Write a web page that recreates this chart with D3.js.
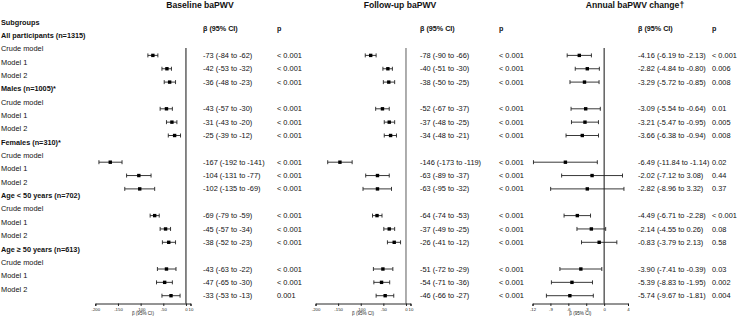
<!DOCTYPE html>
<html><head><meta charset="utf-8">
<script src="https://cdn.jsdelivr.net/npm/d3@7/dist/d3.min.js"></script>
<style>body{margin:0;background:#fff}svg{display:block;font-family:"Liberation Sans",Arial,sans-serif}</style>
</head><body>
<script>
const groups = ["All participants (n=1315)", "Males (n=1005)*", "Females (n=310)*", "Age < 50 years (n=702)", "Age \u2265 50 years (n=613)"];
const models = ["Crude model", "Model 1", "Model 2"];
const panelTitles = ["Baseline baPWV", "Follow-up baPWV", "Annual baPWV change\u2020"];

const baseBeta = [-73,-42,-36, -43,-31,-25, -167,-104,-102, -69,-45,-38, -43,-47,-33];
const baseLo   = [-84,-53,-48, -57,-43,-39, -192,-131,-135, -79,-57,-52, -63,-65,-53];
const baseHi   = [-62,-32,-23, -30,-20,-12, -141,-77,-69, -59,-34,-23, -22,-30,-13];
const baseP    = ["< 0.001","< 0.001","< 0.001","< 0.001","< 0.001","< 0.001","< 0.001","< 0.001","< 0.001","< 0.001","< 0.001","< 0.001","< 0.001","< 0.001","0.001"];

const follBeta = [-78,-40,-38, -52,-37,-34, -146,-63,-63, -64,-37,-26, -51,-54,-46];
const follLo   = [-90,-51,-50, -67,-48,-48, -173,-89,-95, -74,-49,-41, -72,-71,-66];
const follHi   = [-66,-30,-25, -37,-25,-21, -119,-37,-32, -53,-25,-12, -29,-36,-27];
const follP    = ["< 0.001","< 0.001","< 0.001","< 0.001","< 0.001","< 0.001","< 0.001","< 0.001","< 0.001","< 0.001","< 0.001","< 0.001","< 0.001","< 0.001","< 0.001"];

const chgBeta = [-4.16,-2.82,-3.29, -3.09,-3.21,-3.66, -6.49,-2.02,-2.82, -4.49,-2.14,-0.83, -3.90,-5.39,-5.74];
const chgLo   = [-6.19,-4.84,-5.72, -5.54,-5.47,-6.38, -11.84,-7.12,-8.96, -6.71,-4.55,-3.79, -7.41,-8.83,-9.67];
const chgHi   = [-2.13,-0.80,-0.85, -0.64,-0.95,-0.94, -1.14,3.08,3.32, -2.28,0.26,2.13, -0.39,-1.95,-1.81];
const chgP    = ["< 0.001","0.006","0.008","0.01","0.005","0.008","0.02","0.44","0.37","< 0.001","0.08","0.58","0.03","0.002","0.004"];

const ticksPWV = [-200,-150,-100,-50,0,10];
const ticksChg = [-12,-9,-6,-3,0,4];

const W = 750, H = 320;
const svg = d3.select("body").append("svg").attr("width", W).attr("height", H);

const rowY = d3.scaleLinear().domain([0, 20]).range([22, 289]);
const dataOff = 6.7;
const axisY = 303.5;
const topLine = 48;

// left labels
const labelRows = [{t:"Subgroups", b:true, i:0}];
groups.forEach((g, gi) => {
  labelRows.push({t:g, b:true, i:1 + gi*4});
  models.forEach((m, mi) => labelRows.push({t:m, b:false, i:2 + gi*4 + mi}));
});
svg.append("g").selectAll("text").data(labelRows).join("text")
  .attr("x", 1).attr("y", d => rowY(d.i)).attr("dy", "0.35em")
  .attr("font-size", d => d.b ? 7.3 : 7.4)
  .attr("font-weight", d => d.b ? "bold" : "normal")
  .attr("fill", "#111")
  .text(d => d.t);

function fmt(v, k) { return (v < 0 ? "-" : "") + Math.abs(v).toFixed(k); }

const panels = [
  {title: panelTitles[0], tx: 200, beta: baseBeta, lo: baseLo, hi: baseHi, p: baseP, dom: [-200,10], rng: [95.3,190.5], ticks: ticksPWV, dec: 0, bx: 203, px: 277, zc: "#111", zw: 1},
  {title: panelTitles[1], tx: 400, beta: follBeta, lo: follLo, hi: follHi, p: follP, dom: [-200,10], rng: [315.5,410.5], ticks: ticksPWV, dec: 0, bx: 420, px: 499, zc: "#999", zw: 1.6},
  {title: panelTitles[2], tx: 635, beta: chgBeta, lo: chgLo, hi: chgHi, p: chgP, dom: [-12,4], rng: [532.5,628], ticks: ticksChg, dec: 2, bx: 638, px: 712, zc: "#111", zw: 1}
];

panels.forEach(P => {
  const g = svg.append("g");
  const x = d3.scaleLinear().domain(P.dom).range(P.rng);
  g.append("text").attr("x", P.tx).attr("y", 5).attr("dy", "0.35em")
    .attr("text-anchor", "middle").attr("font-size", 8.6).attr("font-weight", "bold")
    .attr("fill", "#111").text(P.title);
  g.append("text").attr("x", P.bx).attr("y", rowY(0) + dataOff).attr("dy", "0.35em")
    .attr("font-size", 7.2).attr("font-weight", "bold").attr("fill", "#111").text("\u03b2 (95% CI)");
  g.append("text").attr("x", P.px).attr("y", rowY(0) + dataOff).attr("dy", "0.35em")
    .attr("font-size", 7.2).attr("font-weight", "bold").attr("fill", "#111").text("p");

  // zero line
  g.append("line").attr("x1", x(0)).attr("x2", x(0)).attr("y1", topLine).attr("y2", axisY)
    .attr("stroke", P.zc).attr("stroke-width", P.zw);

  const rows = P.beta.map((b, k) => ({
    b, lo: P.lo[k], hi: P.hi[k], p: P.p[k],
    y: rowY(2 + Math.floor(k/3)*4 + (k%3)) + dataOff
  }));

  const r = g.append("g").selectAll("g").data(rows).join("g");
  r.append("line").attr("x1", d => x(d.lo)).attr("x2", d => x(d.hi))
    .attr("y1", d => d.y).attr("y2", d => d.y).attr("stroke", "#222").attr("stroke-width", 0.9);
  r.append("line").attr("x1", d => x(d.lo)).attr("x2", d => x(d.lo))
    .attr("y1", d => d.y - 2).attr("y2", d => d.y + 2).attr("stroke", "#222").attr("stroke-width", 0.9);
  r.append("line").attr("x1", d => x(d.hi)).attr("x2", d => x(d.hi))
    .attr("y1", d => d.y - 2).attr("y2", d => d.y + 2).attr("stroke", "#222").attr("stroke-width", 0.9);
  r.append("rect").attr("x", d => x(d.b) - 1.7).attr("y", d => d.y - 1.7)
    .attr("width", 3.4).attr("height", 3.4).attr("fill", "#000");
  r.append("text").attr("x", P.bx).attr("y", d => d.y).attr("dy", "0.35em")
    .attr("font-size", 7.4).attr("fill", "#111")
    .text(d => `${fmt(d.b, P.dec)} (${fmt(d.lo, P.dec)} to ${fmt(d.hi, P.dec)})`);
  r.append("text").attr("x", P.px).attr("y", d => d.y).attr("dy", "0.35em")
    .attr("font-size", 7.4).attr("fill", "#111").text(d => d.p);

  // axis
  const ax = g.append("g").attr("transform", `translate(0,${axisY})`)
    .call(d3.axisBottom(x).tickValues(P.ticks).tickSize(2.5).tickPadding(1.5).tickFormat(d => String(d)));
  ax.select(".domain").attr("stroke", "#111").attr("stroke-width", 0.9);
  ax.selectAll(".tick line").attr("stroke", "#111").attr("stroke-width", 0.9);
  ax.selectAll(".tick text").attr("font-size", 4.3).attr("fill", "#222").attr("font-family", "Liberation Sans, Arial, sans-serif");
  g.append("text").attr("x", (P.rng[0] + P.rng[1]) / 2).attr("y", 313.5).attr("dy", "0.35em")
    .attr("text-anchor", "middle").attr("font-size", 4.6).attr("fill", "#222").text("\u03b2 (95% CI)");
});
</script>
</body></html>
